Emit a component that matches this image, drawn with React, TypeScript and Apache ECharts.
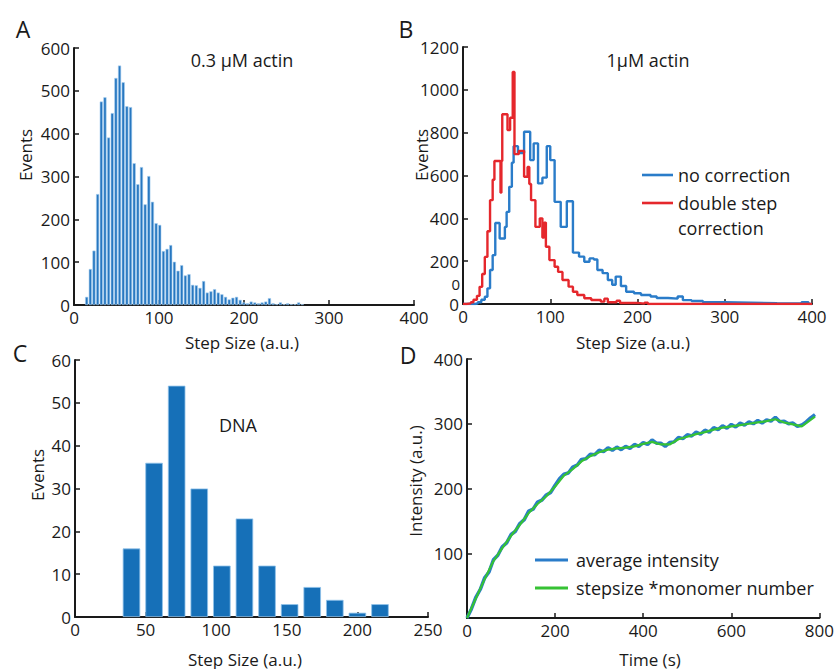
import React, { useEffect, useRef } from "react";
import * as echarts from "echarts";

const FONT = '"Open Sans", "Noto Sans", "DejaVu Sans", sans-serif';
const INK = "#1a1a1a";

// ---------- Panel A: 0.3 µM actin histogram ----------
const aBinStart = 14.9;
const aBinWidth = 4.3;
const aCounts = [
  19, 84, 127, 259, 475, 485, 391, 448, 530, 559, 520, 464, 462, 331, 282, 322, 235, 301, 241, 191,
  187, 126, 131, 140, 101, 80, 93, 69, 72, 47, 46, 40, 56, 29, 32, 37, 29, 25, 19, 13,
  17, 19, 12, 6, 4, 8, 6, 4, 6, 8, 16, 4, 2, 6, 2, 4, 2, 2, 6, 2,
];

// ---------- Panel B: 1 µM actin, step histograms [left edge, count] ----------
const bNoCorrection: [number, number][] = [
  [0, 0], [14, 3], [17, 8], [21, 20], [25, 34], [28, 73], [31, 159], [34, 228], [37, 378], [42, 306],
  [48, 360], [50, 430], [53, 547], [56, 660], [58, 737], [63, 705], [70, 804], [77, 672], [81, 750],
  [86, 563], [91, 590], [96, 737], [100, 672], [105, 477], [112, 360], [119, 480], [126, 240],
  [133, 221], [139, 197], [145, 213], [150, 208], [154, 159], [160, 144], [166, 112], [171, 90],
  [175, 128], [181, 84], [187, 57], [196, 50], [204, 42], [215, 35], [222, 28], [235, 25], [246, 35],
  [252, 18], [262, 14], [275, 8], [300, 6], [330, 4], [360, 3], [388, 8], [396, 0], [400, 0],
];
const bDoubleStep: [number, number][] = [
  [0, 0], [4, 3], [9, 8], [12, 20], [16, 38], [19, 80], [22, 140], [25, 220], [28, 340], [31, 485],
  [34, 580], [36, 668], [43, 520], [44, 668], [45, 886], [51, 812], [54, 870], [57, 1083], [59, 700],
  [64, 715], [70, 594], [74, 640], [76, 560], [78, 485], [83, 360], [88, 400], [91, 310], [93, 380],
  [95, 267], [99, 205], [105, 174], [109, 150], [114, 112], [121, 81], [126, 57], [131, 42], [139, 27],
  [147, 19], [158, 11], [162, 25], [166, 8], [176, 15], [180, 5], [200, 2], [208, 6], [212, 0], [400, 0],
];

// ---------- Panel C: DNA histogram ----------
const cBinStart = 40;
const cBinWidth = 16;
const cCounts = [16, 36, 54, 30, 12, 23, 12, 3, 7, 4, 1, 3];

// ---------- Panel D: intensity vs time ----------
const dAverageStep = 10; // s between samples
const dAverage = [
  0, 14, 32, 44, 62, 71, 90, 97, 110, 116,
  129, 134, 146, 152, 165, 168, 179, 182, 190, 194,
  205, 215, 222, 224, 233, 236, 245, 246, 253, 252,
  259, 257, 263, 259, 264, 260, 265, 262, 268, 265,
  271, 268, 275, 270, 270, 265, 271, 272, 279, 277,
  283, 281, 287, 284, 290, 287, 294, 291, 297, 293,
  299, 295, 301, 298, 303, 300, 305, 301, 306, 304,
  310, 303, 304, 300, 301, 296, 298, 303, 309, 314,
];
const dModelTimes = [
  0, 20, 40, 60, 80, 100, 120, 140, 160, 180, 200, 220, 240, 260, 280, 300, 320, 340, 360, 380,
  400, 420, 440, 460, 480, 500, 520, 540, 560, 580, 600, 620, 640, 660, 680, 700, 720, 740, 760, 780, 790,
];
const dModel = [
  0, 30, 60, 88, 108, 127, 144, 162, 176, 188, 203, 220, 230, 242, 250, 256, 260, 262, 263, 265,
  269, 272, 268, 268, 276, 280, 284, 287, 291, 294, 296, 298, 300, 302, 304, 307, 302, 299, 296, 306, 311,
];

const BLUE_BAR = "#2777c0";
const BLUE_BAR_DARK = "#1670b8";
const BLUE_LINE = "#2a7cc9";
const RED_LINE = "#e5272c";
const GREEN_LINE = "#36c234";

const plain = (v: number) => String(v);

function xAxisOf(gridIndex: number, min: number, max: number, interval: number) {
  return {
    type: "value",
    gridIndex,
    min,
    max,
    interval,
    axisLine: { show: true, onZero: false, lineStyle: { color: INK, width: 2 } },
    axisTick: { show: true, inside: true, length: 5, lineStyle: { color: INK, width: 1.5 } },
    axisLabel: { color: INK, fontSize: 17, fontFamily: FONT, margin: 4, formatter: plain },
    splitLine: { show: false },
  };
}
function yAxisOf(gridIndex: number, min: number, max: number, interval: number, showMin = true) {
  return {
    type: "value",
    gridIndex,
    min,
    max,
    interval,
    axisLine: { show: true, onZero: false, lineStyle: { color: INK, width: 2 } },
    axisTick: { show: true, inside: true, length: 5, lineStyle: { color: INK, width: 1.5 } },
    axisLabel: {
      color: INK,
      fontSize: 17,
      fontFamily: FONT,
      margin: 4,
      showMinLabel: showMin,
      formatter: plain,
    },
    splitLine: { show: false },
  };
}

function txt(text: string, x: number, y: number, size: number, align = "center", rotation = 0) {
  return {
    type: "text",
    x,
    y,
    rotation,
    style: {
      text,
      fill: INK,
      font: `${size}px ${FONT}`,
      textAlign: align,
      textVerticalAlign: "middle",
      align,
      verticalAlign: "middle",
    },
  };
}
function seg(x1: number, y1: number, x2: number, y2: number, color: string, w: number) {
  return {
    type: "line",
    shape: { x1, y1, x2, y2 },
    style: { stroke: color, lineWidth: w },
  };
}

export default function App() {
  const ref = useRef<HTMLDivElement>(null);
  useEffect(() => {
    if (!ref.current) return;
    const chart = echarts.init(ref.current, undefined, { renderer: "svg" });

    const aData = aCounts.map((c, i) => [aBinStart + i * aBinWidth, c]);
    const cData = cCounts.map((c, i) => [cBinStart + i * cBinWidth, c]);
    const dAvgData = dAverage.map((v, i) => [i * dAverageStep, v]);
    const dModelData = dModel.map((v, i) => [dModelTimes[i], v]);

    chart.setOption({
      animation: false,
      backgroundColor: "#ffffff",
      grid: [
        { left: 74, top: 48, width: 340, height: 257 },
        { left: 463, top: 47, width: 349, height: 257 },
        { left: 75, top: 360, width: 353, height: 257 },
        { left: 467, top: 359, width: 355, height: 259 },
      ],
      xAxis: [
        xAxisOf(0, 0, 400, 100),
        xAxisOf(1, 0, 400, 100),
        xAxisOf(2, 0, 250, 50),
        xAxisOf(3, 0, 800, 200),
      ],
      yAxis: [
        yAxisOf(0, 0, 600, 100),
        yAxisOf(1, 0, 1200, 200),
        yAxisOf(2, 0, 60, 10),
        yAxisOf(3, 0, 400, 100, false),
      ],
      series: [
        {
          name: "0.3 µM actin",
          type: "bar",
          xAxisIndex: 0,
          yAxisIndex: 0,
          data: aData,
          barWidth: 3.1,
          itemStyle: { color: BLUE_BAR, borderColor: "#a6cff0", borderWidth: 0.6 },
        },
        {
          name: "no correction",
          type: "line",
          xAxisIndex: 1,
          yAxisIndex: 1,
          step: "end",
          data: bNoCorrection,
          showSymbol: false,
          lineStyle: { color: BLUE_LINE, width: 2.4 },
          itemStyle: { color: BLUE_LINE },
        },
        {
          name: "double step correction",
          type: "line",
          xAxisIndex: 1,
          yAxisIndex: 1,
          step: "end",
          data: bDoubleStep,
          showSymbol: false,
          lineStyle: { color: RED_LINE, width: 2.4 },
          itemStyle: { color: RED_LINE },
        },
        {
          name: "DNA",
          type: "bar",
          xAxisIndex: 2,
          yAxisIndex: 2,
          data: cData,
          barWidth: 17.5,
          itemStyle: { color: BLUE_BAR_DARK, borderColor: "#8fc2ea", borderWidth: 0.8 },
        },
        {
          name: "average intensity",
          type: "line",
          xAxisIndex: 3,
          yAxisIndex: 3,
          data: dAvgData,
          showSymbol: false,
          lineStyle: { color: BLUE_LINE, width: 3.5 },
          itemStyle: { color: BLUE_LINE },
        },
        {
          name: "stepsize *monomer number",
          type: "line",
          xAxisIndex: 3,
          yAxisIndex: 3,
          data: dModelData,
          showSymbol: false,
          lineStyle: { color: GREEN_LINE, width: 2.2 },
          itemStyle: { color: GREEN_LINE },
        },
      ],
      graphic: [
        // panel letters
        txt("A", 23, 29, 23),
        txt("B", 406, 29, 23),
        txt("C", 20, 353, 23),
        txt("D", 408, 355, 23),
        // panel titles
        txt("0.3 µM actin", 242, 60, 18),
        txt("1µM actin", 648, 60, 18),
        txt("DNA", 238, 425, 18),
        // axis names
        txt("Events", 25, 155, 17, "center", Math.PI / 2),
        txt("Step Size (a.u.)", 242, 342, 17),
        txt("Events", 421, 155, 17, "center", Math.PI / 2),
        txt("Step Size (a.u.)", 633, 342, 17),
        txt("Events", 37, 475, 17, "center", Math.PI / 2),
        txt("Step Size (a.u.)", 245, 659, 17),
        txt("Intensity (a.u.)", 415, 481, 17, "center", Math.PI / 2),
        txt("Time (s)", 650, 659, 17),
        // overlapping zero label seen in panel B
        txt("0", 460, 284, 15, "right"),
        // legend B
        seg(642, 175, 673, 175, BLUE_LINE, 2.6),
        txt("no correction", 678, 175, 18, "left"),
        seg(642, 203, 673, 203, RED_LINE, 2.6),
        txt("double step", 678, 203, 18, "left"),
        txt("correction", 678, 228, 18, "left"),
        // legend D
        seg(535, 560, 568, 560, BLUE_LINE, 3),
        txt("average intensity", 576, 560, 18, "left"),
        seg(535, 588, 568, 588, GREEN_LINE, 3),
        txt("stepsize *monomer number", 576, 588, 18, "left"),
      ],
    });
    return () => chart.dispose();
  }, []);
  return (
    <div
      ref={ref}
      style={{ position: "fixed", left: 0, top: 0, width: 837, height: 669, background: "#fff" }}
    />
  );
}
